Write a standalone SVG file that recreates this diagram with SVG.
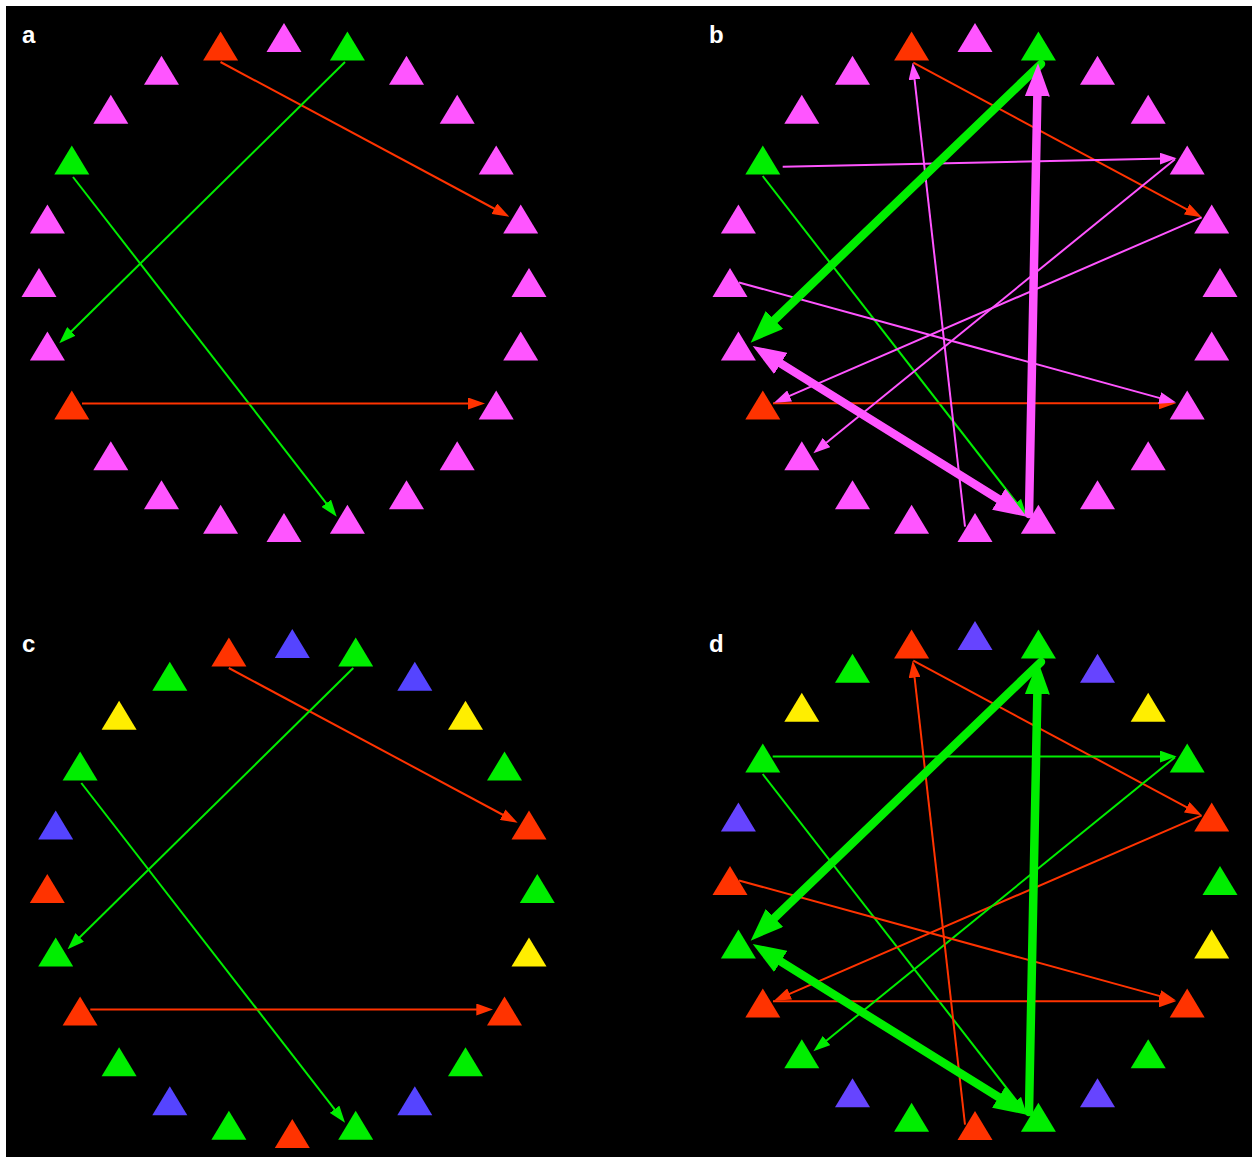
<svg xmlns="http://www.w3.org/2000/svg" xmlns:xlink="http://www.w3.org/1999/xlink" width="1252" height="1158" viewBox="0 0 1252 1158">
<style>
.pk{fill:#ff55ff}.gr{fill:#00ee00}.rd{fill:#ff3300}.bl{fill:#5544ff}.bl2{fill:#6644ff}.yl{fill:#ffee00}
.e{fill:none;stroke-width:2}
.th{fill:none;stroke-width:8.5;stroke-linecap:round}
.sr{stroke:#ff3300}.sg{stroke:#00ee00}.sp{stroke:#ff55ff}
.lbl{font-family:"Liberation Sans",Arial,sans-serif;font-weight:bold;font-size:24px;fill:#ffffff}
</style>
<defs>
<path id="tri" d="M0,-14.5 L17.5,14.5 L-17.5,14.5 Z"/>
<marker id="mr" markerUnits="userSpaceOnUse" markerWidth="17" markerHeight="12" refX="7" refY="6" orient="auto"><path d="M0,0 L17,6 L0,12 Z" fill="#ff3300"/></marker>
<marker id="mg" markerUnits="userSpaceOnUse" markerWidth="17" markerHeight="12" refX="7" refY="6" orient="auto"><path d="M0,0 L17,6 L0,12 Z" fill="#00ee00"/></marker>
<marker id="mp" markerUnits="userSpaceOnUse" markerWidth="17" markerHeight="12" refX="7" refY="6" orient="auto"><path d="M0,0 L17,6 L0,12 Z" fill="#ff55ff"/></marker>
<marker id="Mg" markerUnits="userSpaceOnUse" markerWidth="33" markerHeight="25" refX="17" refY="12.5" orient="auto-start-reverse"><path d="M0,0 L33,12.5 L0,25 Z" fill="#00ee00"/></marker>
<marker id="Mp" markerUnits="userSpaceOnUse" markerWidth="33" markerHeight="25" refX="17" refY="12.5" orient="auto-start-reverse"><path d="M0,0 L33,12.5 L0,25 Z" fill="#ff55ff"/></marker>
</defs>
<rect x="0" y="0" width="1252" height="1158" fill="#ffffff"/>
<rect x="6" y="6" width="1246" height="1151" fill="#000000"/>
<g id="labels">
<text class="lbl" x="22" y="43">a</text>
<text class="lbl" x="709" y="43">b</text>
<text class="lbl" x="22" y="652">c</text>
<text class="lbl" x="709" y="652">d</text>
</g>
<g id="connectors">
<!-- panel a -->
<line class="e sr" x1="220.5" y1="62" x2="500.5" y2="212" marker-end="url(#mr)"/>
<line class="e sg" x1="345" y1="62" x2="66.4" y2="336.3" marker-end="url(#mg)"/>
<line class="e sg" x1="73" y1="177" x2="330.6" y2="508.8" marker-end="url(#mg)"/>
<line class="e sr" x1="82" y1="403.5" x2="475" y2="403.5" marker-end="url(#mr)"/>
<!-- panel c -->
<line class="e sr" x1="228.8" y1="668" x2="508.8" y2="818" marker-end="url(#mr)"/>
<line class="e sg" x1="353.3" y1="668" x2="74.7" y2="942.3" marker-end="url(#mg)"/>
<line class="e sg" x1="81.3" y1="783" x2="338.9" y2="1114.8" marker-end="url(#mg)"/>
<line class="e sr" x1="90.3" y1="1009.5" x2="483.3" y2="1009.5" marker-end="url(#mr)"/>
<!-- panel b -->
<line class="e sr" x1="913.3" y1="62.7" x2="1192.9" y2="212.6" marker-end="url(#mr)"/>
<line class="e sg" x1="762.7" y1="176" x2="1020.6" y2="508.1" marker-end="url(#mg)"/>
<line class="e sr" x1="773" y1="403.3" x2="1166" y2="403.3" marker-end="url(#mr)"/>
<line class="e sp" x1="782.7" y1="166.7" x2="1166.7" y2="158.5" marker-end="url(#mp)"/>
<line class="e sp" x1="1201.7" y1="217.3" x2="783.2" y2="398.7" marker-end="url(#mp)"/>
<line class="e sp" x1="1175" y1="159.3" x2="821.1" y2="447" marker-end="url(#mp)"/>
<line class="e sp" x1="739" y1="282.5" x2="1166.4" y2="399.9" marker-end="url(#mp)"/>
<line class="e sp" x1="965" y1="526.7" x2="913.8" y2="72.6" marker-end="url(#mp)"/>
<line class="th sg" x1="1041" y1="64" x2="762.2" y2="331.6" marker-end="url(#Mg)"/>
<line class="th sp" x1="1029" y1="514" x2="1037.7" y2="79.3" marker-end="url(#Mp)"/>
<line class="th sp" x1="766.3" y1="354.5" x2="1013.1" y2="508.2" marker-start="url(#Mp)" marker-end="url(#Mp)"/>
<!-- panel d -->
<line class="e sr" x1="913.3" y1="660.7" x2="1192.9" y2="810.6" marker-end="url(#mr)"/>
<line class="e sg" x1="762.7" y1="774" x2="1020.6" y2="1106.1" marker-end="url(#mg)"/>
<line class="e sr" x1="773" y1="1001.3" x2="1166" y2="1001.3" marker-end="url(#mr)"/>
<line class="e sg" x1="772.7" y1="756.5" x2="1166.7" y2="756.5" marker-end="url(#mg)"/>
<line class="e sr" x1="1201.7" y1="815.3" x2="783.2" y2="996.7" marker-end="url(#mr)"/>
<line class="e sg" x1="1175" y1="757.3" x2="821.1" y2="1045" marker-end="url(#mg)"/>
<line class="e sr" x1="739" y1="880.5" x2="1166.4" y2="997.9" marker-end="url(#mr)"/>
<line class="e sr" x1="965" y1="1124.7" x2="913.8" y2="670.6" marker-end="url(#mr)"/>
<line class="th sg" x1="1041" y1="662" x2="762.2" y2="929.6" marker-end="url(#Mg)"/>
<line class="th sg" x1="1029" y1="1112" x2="1037.7" y2="677.3" marker-end="url(#Mg)"/>
<line class="th sg" x1="766.3" y1="952.5" x2="1013.1" y2="1106.2" marker-start="url(#Mg)" marker-end="url(#Mg)"/>
</g>
<!-- panel a nodes -->
<g id="a-n0"><use href="#tri" x="284" y="37.5" class="pk"/></g>
<g id="a-n1"><use href="#tri" x="347.4" y="45.9" class="gr"/></g>
<g id="a-n2"><use href="#tri" x="406.5" y="70.3" class="pk"/></g>
<g id="a-n3"><use href="#tri" x="457.2" y="109.3" class="pk"/></g>
<g id="a-n4"><use href="#tri" x="496.2" y="160" class="pk"/></g>
<g id="a-n5"><use href="#tri" x="520.7" y="219.1" class="pk"/></g>
<g id="a-n6"><use href="#tri" x="529" y="282.5" class="pk"/></g>
<g id="a-n7"><use href="#tri" x="520.7" y="345.9" class="pk"/></g>
<g id="a-n8"><use href="#tri" x="496.2" y="405" class="pk"/></g>
<g id="a-n9"><use href="#tri" x="457.2" y="455.7" class="pk"/></g>
<g id="a-n10"><use href="#tri" x="406.5" y="494.7" class="pk"/></g>
<g id="a-n11"><use href="#tri" x="347.4" y="519.2" class="pk"/></g>
<g id="a-n12"><use href="#tri" x="284" y="527.5" class="pk"/></g>
<g id="a-n13"><use href="#tri" x="220.6" y="519.2" class="pk"/></g>
<g id="a-n14"><use href="#tri" x="161.5" y="494.7" class="pk"/></g>
<g id="a-n15"><use href="#tri" x="110.8" y="455.7" class="pk"/></g>
<g id="a-n16"><use href="#tri" x="71.8" y="405" class="rd"/></g>
<g id="a-n17"><use href="#tri" x="47.4" y="345.9" class="pk"/></g>
<g id="a-n18"><use href="#tri" x="39" y="282.5" class="pk"/></g>
<g id="a-n19"><use href="#tri" x="47.4" y="219.1" class="pk"/></g>
<g id="a-n20"><use href="#tri" x="71.8" y="160" class="gr"/></g>
<g id="a-n21"><use href="#tri" x="110.8" y="109.3" class="pk"/></g>
<g id="a-n22"><use href="#tri" x="161.5" y="70.3" class="pk"/></g>
<g id="a-n23"><use href="#tri" x="220.6" y="45.9" class="rd"/></g>
<!-- panel b nodes -->
<g id="b-n0"><use href="#tri" x="975" y="37.5" class="pk"/></g>
<g id="b-n1"><use href="#tri" x="1038.4" y="45.9" class="gr"/></g>
<g id="b-n2"><use href="#tri" x="1097.5" y="70.3" class="pk"/></g>
<g id="b-n3"><use href="#tri" x="1148.2" y="109.3" class="pk"/></g>
<g id="b-n4"><use href="#tri" x="1187.2" y="160" class="pk"/></g>
<g id="b-n5"><use href="#tri" x="1211.7" y="219.1" class="pk"/></g>
<g id="b-n6"><use href="#tri" x="1220" y="282.5" class="pk"/></g>
<g id="b-n7"><use href="#tri" x="1211.7" y="345.9" class="pk"/></g>
<g id="b-n8"><use href="#tri" x="1187.2" y="405" class="pk"/></g>
<g id="b-n9"><use href="#tri" x="1148.2" y="455.7" class="pk"/></g>
<g id="b-n10"><use href="#tri" x="1097.5" y="494.7" class="pk"/></g>
<g id="b-n11"><use href="#tri" x="1038.4" y="519.2" class="pk"/></g>
<g id="b-n12"><use href="#tri" x="975" y="527.5" class="pk"/></g>
<g id="b-n13"><use href="#tri" x="911.6" y="519.2" class="pk"/></g>
<g id="b-n14"><use href="#tri" x="852.5" y="494.7" class="pk"/></g>
<g id="b-n15"><use href="#tri" x="801.8" y="455.7" class="pk"/></g>
<g id="b-n16"><use href="#tri" x="762.8" y="405" class="rd"/></g>
<g id="b-n17"><use href="#tri" x="738.4" y="345.9" class="pk"/></g>
<g id="b-n18"><use href="#tri" x="730" y="282.5" class="pk"/></g>
<g id="b-n19"><use href="#tri" x="738.4" y="219.1" class="pk"/></g>
<g id="b-n20"><use href="#tri" x="762.8" y="160" class="gr"/></g>
<g id="b-n21"><use href="#tri" x="801.8" y="109.3" class="pk"/></g>
<g id="b-n22"><use href="#tri" x="852.5" y="70.3" class="pk"/></g>
<g id="b-n23"><use href="#tri" x="911.6" y="45.9" class="rd"/></g>
<!-- panel c nodes -->
<g id="c-n0"><use href="#tri" x="292.3" y="643.5" class="bl"/></g>
<g id="c-n1"><use href="#tri" x="355.7" y="651.9" class="gr"/></g>
<g id="c-n2"><use href="#tri" x="414.8" y="676.3" class="bl"/></g>
<g id="c-n3"><use href="#tri" x="465.5" y="715.3" class="yl"/></g>
<g id="c-n4"><use href="#tri" x="504.5" y="766" class="gr"/></g>
<g id="c-n5"><use href="#tri" x="529" y="825.1" class="rd"/></g>
<g id="c-n6"><use href="#tri" x="537.3" y="888.5" class="gr"/></g>
<g id="c-n7"><use href="#tri" x="529" y="951.9" class="yl"/></g>
<g id="c-n8"><use href="#tri" x="504.5" y="1011" class="rd"/></g>
<g id="c-n9"><use href="#tri" x="465.5" y="1061.7" class="gr"/></g>
<g id="c-n10"><use href="#tri" x="414.8" y="1100.7" class="bl"/></g>
<g id="c-n11"><use href="#tri" x="355.7" y="1125.2" class="gr"/></g>
<g id="c-n12"><use href="#tri" x="292.3" y="1133.5" class="rd"/></g>
<g id="c-n13"><use href="#tri" x="228.9" y="1125.2" class="gr"/></g>
<g id="c-n14"><use href="#tri" x="169.8" y="1100.7" class="bl"/></g>
<g id="c-n15"><use href="#tri" x="119.1" y="1061.7" class="gr"/></g>
<g id="c-n16"><use href="#tri" x="80.1" y="1011" class="rd"/></g>
<g id="c-n17"><use href="#tri" x="55.7" y="951.9" class="gr"/></g>
<g id="c-n18"><use href="#tri" x="47.3" y="888.5" class="rd"/></g>
<g id="c-n19"><use href="#tri" x="55.7" y="825.1" class="bl"/></g>
<g id="c-n20"><use href="#tri" x="80.1" y="766" class="gr"/></g>
<g id="c-n21"><use href="#tri" x="119.1" y="715.3" class="yl"/></g>
<g id="c-n22"><use href="#tri" x="169.8" y="676.3" class="gr"/></g>
<g id="c-n23"><use href="#tri" x="228.9" y="651.9" class="rd"/></g>
<!-- panel d nodes -->
<g id="d-n0"><use href="#tri" x="975" y="635.5" class="bl2"/></g>
<g id="d-n1"><use href="#tri" x="1038.4" y="643.9" class="gr"/></g>
<g id="d-n2"><use href="#tri" x="1097.5" y="668.3" class="bl2"/></g>
<g id="d-n3"><use href="#tri" x="1148.2" y="707.3" class="yl"/></g>
<g id="d-n4"><use href="#tri" x="1187.2" y="758" class="gr"/></g>
<g id="d-n5"><use href="#tri" x="1211.7" y="817.1" class="rd"/></g>
<g id="d-n6"><use href="#tri" x="1220" y="880.5" class="gr"/></g>
<g id="d-n7"><use href="#tri" x="1211.7" y="943.9" class="yl"/></g>
<g id="d-n8"><use href="#tri" x="1187.2" y="1003" class="rd"/></g>
<g id="d-n9"><use href="#tri" x="1148.2" y="1053.7" class="gr"/></g>
<g id="d-n10"><use href="#tri" x="1097.5" y="1092.7" class="bl2"/></g>
<g id="d-n11"><use href="#tri" x="1038.4" y="1117.2" class="gr"/></g>
<g id="d-n12"><use href="#tri" x="975" y="1125.5" class="rd"/></g>
<g id="d-n13"><use href="#tri" x="911.6" y="1117.2" class="gr"/></g>
<g id="d-n14"><use href="#tri" x="852.5" y="1092.7" class="bl2"/></g>
<g id="d-n15"><use href="#tri" x="801.8" y="1053.7" class="gr"/></g>
<g id="d-n16"><use href="#tri" x="762.8" y="1003" class="rd"/></g>
<g id="d-n17"><use href="#tri" x="738.4" y="943.9" class="gr"/></g>
<g id="d-n18"><use href="#tri" x="730" y="880.5" class="rd"/></g>
<g id="d-n19"><use href="#tri" x="738.4" y="817.1" class="bl2"/></g>
<g id="d-n20"><use href="#tri" x="762.8" y="758" class="gr"/></g>
<g id="d-n21"><use href="#tri" x="801.8" y="707.3" class="yl"/></g>
<g id="d-n22"><use href="#tri" x="852.5" y="668.3" class="gr"/></g>
<g id="d-n23"><use href="#tri" x="911.6" y="643.9" class="rd"/></g>
</svg>
